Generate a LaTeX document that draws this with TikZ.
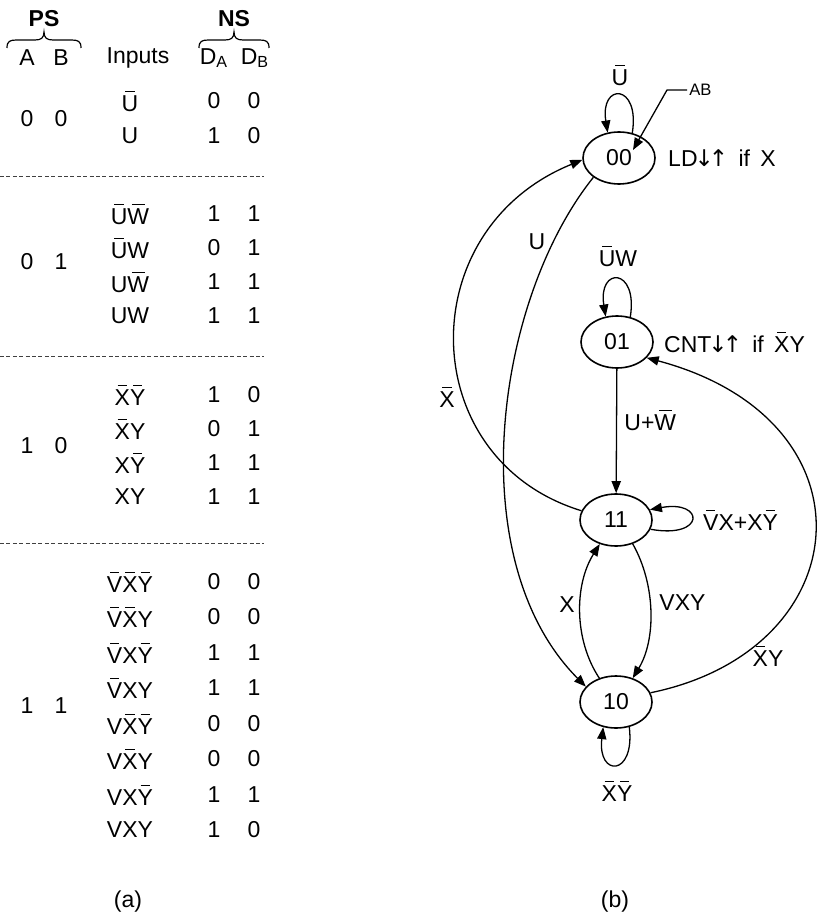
\documentclass[tikz,border=0pt]{standalone}
\usepackage{fontspec}
\setmainfont{Liberation Sans}
\newfontfamily\arrfont{DejaVu Sans}
\usepackage{tikz}
\usetikzlibrary{positioning,arrows.meta,shapes.geometric}
\newcommand{\nb}[1]{\leavevmode\setbox0=\hbox{#1}\rlap{\hbox to\wd0{\hss\raisebox{\dimexpr\ht0+1.6pt\relax}{\rule{0.6\wd0}{0.7pt}}\hss}}\box0}
\newcommand{\dnup}{{\arrfont\kern-1.5pt↓\kern-2.5pt↑}}
\tikzset{
  txt/.style     = {font=\fontsize{11.5}{13}\selectfont, inner sep=1pt},
  hdr/.style     = {font=\fontsize{11.5}{13}\selectfont\bfseries, inner sep=1pt},
  state/.style   = {draw, ellipse, minimum width=36pt, minimum height=26pt, inner sep=0pt, line width=0.8pt, font=\fontsize{11.5}{13}\selectfont},
  flow/.style    = {-{Triangle[length=6pt,width=4.6pt]}, line width=0.65pt},
  sepline/.style = {dash pattern=on 2pt off 1.2pt, line width=0.45pt, black!75},
  brc/.style     = {line width=0.6pt},
}

\begin{document}
\begin{tikzpicture}[x=0.5pt,y=-0.5pt]
  \useasboundingbox (0,0) rectangle (817,914);
  % (a) the state table
  \node[hdr] (ps) at (44,19) {PS};
  \node[hdr] (ns) at (234,19) {NS};
  \draw[brc] (7,48) .. controls (7,41) and (10,40) .. (17,40) -- (35,40) .. controls (41,40) and (44,38) .. (44,32)
    .. controls (44,38) and (47,40) .. (53,40) -- (71,40) .. controls (78,40) and (81,41) .. (81,48);
  \draw[brc] (199,48) .. controls (199,41) and (202,40) .. (209,40) -- (225,40) .. controls (231,40) and (234,38) .. (234,32)
    .. controls (234,38) and (237,40) .. (243,40) -- (259,40) .. controls (266,40) and (269,41) .. (269,48);
  \node[txt] (ca) at (27,58) {A};
  \node[txt] (cb) at (61,58) {B};
  \node[txt] (inp) at (138,58) {Inputs};
  \node[txt] (cda) at (214,58) {D\textsubscript{A}};
  \node[txt] (cdb) at (255,58) {D\textsubscript{B}};
  \foreach \y/\a/\b [count=\k] in {119/0/0, 262/0/1, 446/1/0, 706/1/1}{
    \node[txt] (psa\k) at (27,\y) {\a};
    \node[txt] (psb\k) at (61,\y) {\b};
  }
  \foreach \y/\inp/\a/\b [count=\i] in {
      101/{\nb{U}}/0/0, 136/U/1/0,
      214/{\nb{U}\nb{W}}/1/1, 248/{\nb{U}W}/0/1, 282/{U\nb{W}}/1/1, 316/UW/1/1,
      395/{\nb{X}\nb{Y}}/1/0, 429/{\nb{X}Y}/0/1, 463/{X\nb{Y}}/1/1, 497/XY/1/1,
      582/{\nb{V}\nb{X}\nb{Y}}/0/0, 617/{\nb{V}\nb{X}Y}/0/0, 653/{\nb{V}X\nb{Y}}/1/1, 688/{\nb{V}XY}/1/1,
      724/{V\nb{X}\nb{Y}}/0/0, 759/{V\nb{X}Y}/0/0, 795/{VX\nb{Y}}/1/1, 830/VXY/1/0}{
    \node[txt] (in\i) at (130,\y) {\inp};
    \node[txt] (da\i) at (214,\y) {\a};
    \node[txt] (db\i) at (254,\y) {\b};
  }
  \foreach \y in {176,356,543}
    \draw[sepline] (0,\y) -- (264,\y);
  \node[txt] (capa) at (128,902) {(a)};

  % (b) the state diagram
  \node[state] (s00) at (619,158) {00};
  \node[state] (s01) at (617,342) {01};
  \node[state] (s11) at (616,520) {11};
  \node[state] (s10) at (616,702) {10};
  \node[txt, right=5pt of s00] (ld) {LD\dnup\hspace{0.45em}if\hspace{0.45em}X};
  \node[txt, right=4pt of s01] (cnt) {CNT\dnup\hspace{0.45em}if\hspace{0.45em}\nb{X}Y};
  \node[font=\fontsize{8.3}{10}\selectfont, inner sep=1pt, anchor=west] (ab) at (687,90) {AB};
  \coordinate (abtip) at (633,150);
  \draw[flow] (ab.west) -- ++(-20,0) -- (abtip);

  \draw[flow] (s00.62) .. controls +(8,-50) and +(-8,-50) .. (s00.114);
  \draw[flow] (s01.62) .. controls +(8,-50) and +(-8,-50) .. (s01.114);
  \draw[flow] (s11.-15) .. controls +(55,10) and +(55,-10) .. (s11.17);
  \draw[flow] (s10.-62) .. controls +(6,50) and +(-6,50) .. (s10.-117);
  \draw[flow] (s00.217) .. controls (495,300) and (460,560) .. (s10.153);
  \draw[flow] (s11.165) .. controls (415,460) and (410,230) .. (s00.183);
  \draw[flow] (s01) -- (s11);
  \draw[flow] (s10.125) .. controls (574,640) and (574,585) .. (s11.236);
  \draw[flow] (s11.-55) .. controls (656,585) and (656,640) .. (s10.55);
  \draw[flow] (s10.15) .. controls (860,650) and (880,420) .. (s01.-28);

  \node[txt] (l00) at (620,75) {\nb{U}};
  \node[txt] (l01) at (618,256) {\nb{U}W};
  \node[txt] (lu) at (537,242) {U};
  \node[txt] (lxb) at (447,397) {\nb{X}};
  \node[txt, anchor=west] (luw) at (622,420) {U+\nb{W}};
  \node[txt, right=24pt of s11] (l11) {\nb{V}X+X\nb{Y}};
  \node[txt] (lx) at (567,605) {X};
  \node[txt, anchor=west] (lvxy) at (657,603) {VXY};
  \node[txt] (lxy) at (768,656) {\nb{X}Y};
  \node[txt] (l10) at (617,791) {\nb{X}\nb{Y}};
  \node[txt] (capb) at (615,902) {(b)};
\end{tikzpicture}
\end{document}
